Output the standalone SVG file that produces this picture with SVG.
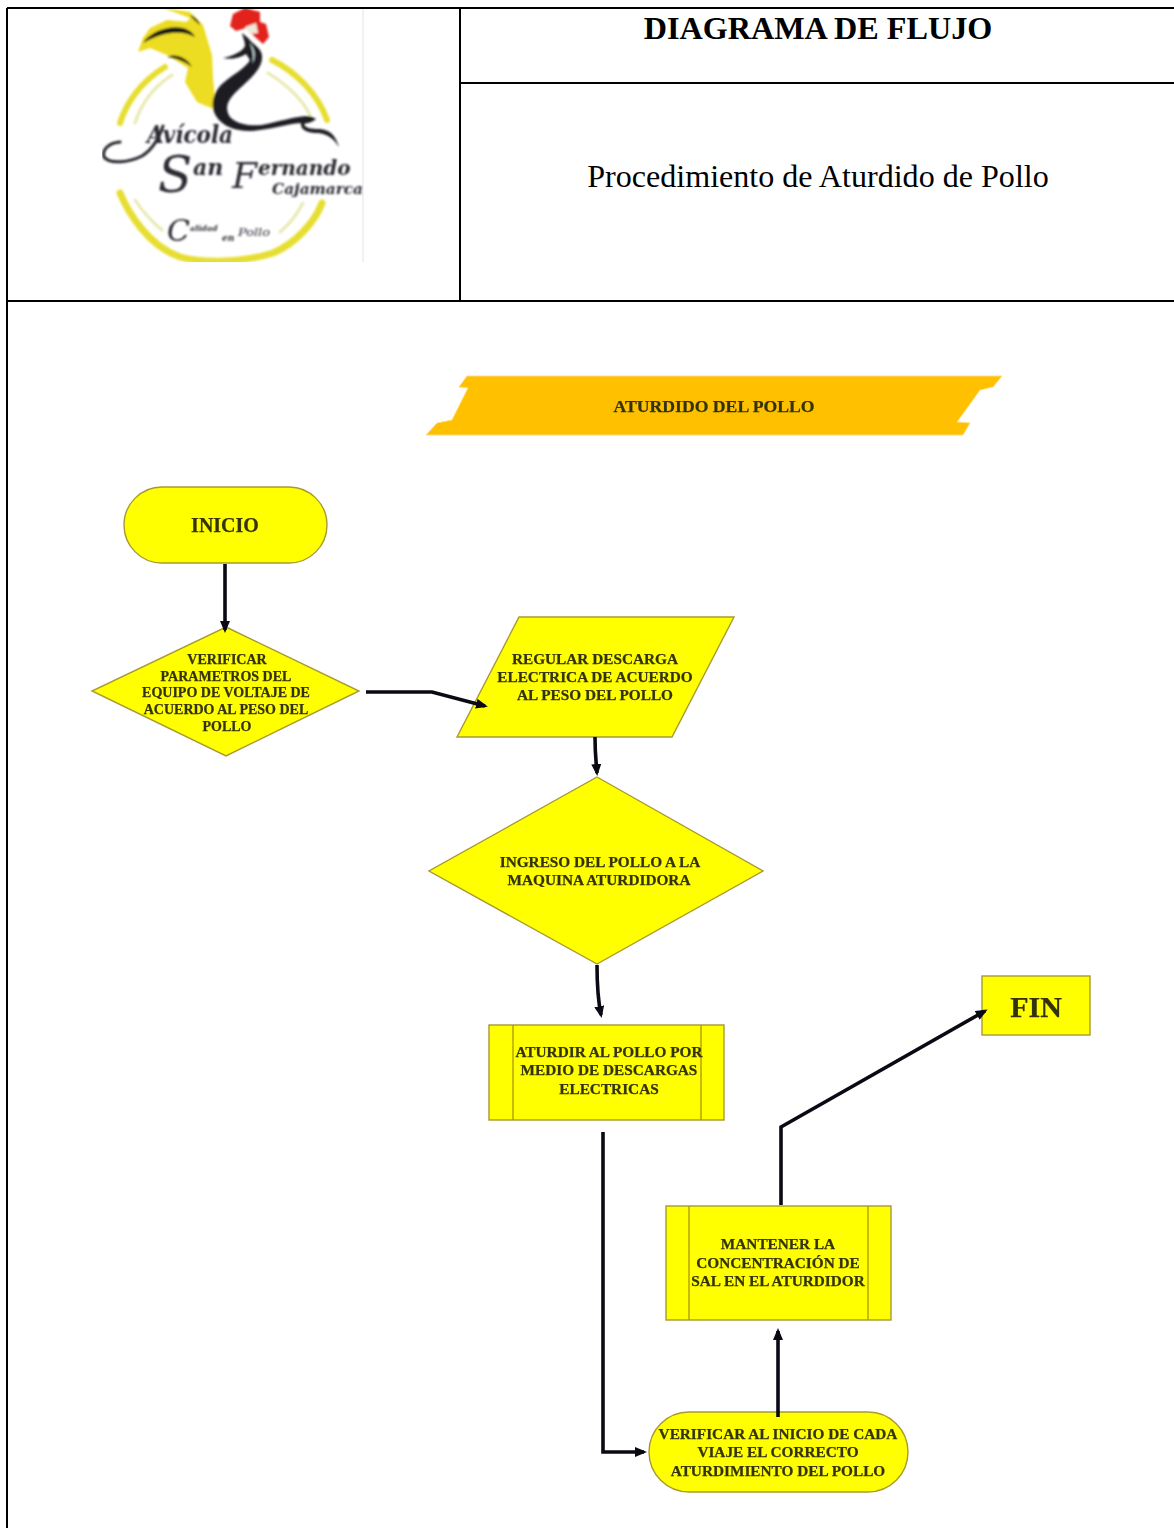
<svg xmlns="http://www.w3.org/2000/svg" width="1174" height="1528" viewBox="0 0 1174 1528">
<style>
.tb{stroke:#000;stroke-width:2;fill:none}
.n{fill:#ffff00;stroke:#a89a30;stroke-width:1.4}
.n2{fill:none;stroke:#b0a000;stroke-width:1.4}
.t{font-family:"Liberation Serif",serif;font-weight:bold;fill:#33330a;stroke:#33330a;stroke-width:.25;text-anchor:middle;font-size:14px}
.m{font-size:15.3px}
.c{fill:none;stroke:#0a0a14;stroke-width:3.6;marker-end:url(#a)}
.y{fill:none;stroke:#e6de30;stroke-linecap:round}
.p{fill:none;stroke:#e8e8b0;stroke-linecap:round;stroke-width:3}
.k{fill:none;stroke:#26262e;stroke-linecap:round}
.lg{font-family:"DejaVu Serif","Liberation Serif",serif;font-style:italic;font-weight:bold;fill:#2a2a32}
.ls{font-family:"DejaVu Serif","Liberation Serif",serif;font-style:italic;fill:#2a2a32}
</style>
<defs>
<marker id="a" markerWidth="12" markerHeight="10" refX="9" refY="5" orient="auto" markerUnits="userSpaceOnUse" viewBox="0 0 12 10"><path d="M0 0L12 5L0 10z" fill="#0a0a14"/></marker>
<filter id="b" filterUnits="userSpaceOnUse" x="0" y="0" width="1174" height="1528"><feGaussianBlur stdDeviation=".5"/></filter>
<filter id="l" filterUnits="userSpaceOnUse" x="0" y="0" width="1174" height="1528"><feGaussianBlur stdDeviation=".8"/></filter>
<clipPath id="lc"><rect x="102" y="9" width="261" height="253"/></clipPath>
</defs>
<rect width="1174" height="1528" fill="#fff"/>
<g id="table">
<path class="tb" d="M7 8H1174M7 8V1528M460 8V301M460 83H1174M7 301H1174"/>
<text x="818" y="39" font-family="Liberation Serif,serif" font-weight="bold" font-size="32.2" text-anchor="middle" fill="#000">DIAGRAMA DE FLUJO</text>
<text x="818" y="187" font-family="Liberation Serif,serif" font-size="32.1" text-anchor="middle" fill="#000">Procedimiento de Aturdido de Pollo</text>
</g>
<g id="logo">
<rect x="102" y="9" width="261" height="253" fill="#fff"/>
<path d="M363 9V262" stroke="#e4e4e8" stroke-width="1"/>
<g clip-path="url(#lc)"><g filter="url(#l)">
<path class="p" d="M135 123C141 104 152 88 172 75"/>
<path class="p" d="M268 73C280 80 300 95 310 115"/>
<path class="p" d="M135 200C143 212 152 222 162 230"/>
<path class="p" d="M303 203C297 214 290 224 280 232"/>
<path class="y" stroke-width="6" d="M120 123C126 104 140 82 165 67"/>
<path class="y" stroke-width="6" d="M272 60C296 72 318 94 327 120"/>
<path class="y" stroke-width="7" d="M120 193C128 212 148 246 180 257C205 264 245 262 273 253C295 244 315 222 322 203"/>
<path d="M163 8L190 12L203 25L212 55L213 78L216 110L197 102L185 82L188 68L167 55L150 48L138 52L143 38L150 28L167 20L187 22L190 18Z" fill="#ecdc20"/>
<path d="M143 43C150 32 168 25 183 28C190 30 193 33 195 37C188 33 180 32 172 33C162 34 152 38 143 43Z" fill="#1c1c14"/>
<path d="M167 57C175 53 187 57 192 67C186 62 176 58 167 57ZM190 15C195 17 199 21 200 25C196 22 192 18 190 15Z" fill="#1c1c14"/>
<path d="M242 33L248 38C252 44 262 48 262 56C263 70 246 82 236 92C228 100 224 108 230 117C238 125 250 126 262 125C278 122 295 116 310 116L316 119C312 123 306 123 304 124C305 128 310 129 320 129C332 130 336 138 339 147C334 139 328 134 318 133C308 133 300 130 301 123C285 124 270 130 250 131C235 131 222 126 216 116C209 104 214 92 222 84C232 75 246 68 250 60L246 54C240 58 230 60 223 58C232 56 242 52 245 46C245 41 243 38 242 33Z" fill="#1c1c24"/>
<path d="M249 42C252 48 255 56 252 64C256 58 256 50 249 42Z" fill="#d0e4e0"/>
<path d="M230 26L233 14L245 8L260 12L260 22L266 24L269 37L263 44L254 36L246 28L236 31Z" fill="#e3201c"/>
<path d="M245 27L256 23L258 33L250 34Z" fill="#f0e8d8"/>
<path class="k" stroke-width="3" d="M120 142C108 143 102 150 104 157C110 165 130 162 142 156C155 148 160 135 163 126"/>
<text class="lg" x="147" y="143" font-size="24" textLength="86" lengthAdjust="spacingAndGlyphs">Avícola</text>
<text class="ls" font-size="20"><tspan x="158" y="192" font-size="50">S</tspan><tspan x="193" y="175" font-weight="bold" font-size="22">an</tspan><tspan x="232" y="188" font-size="36"> </tspan><tspan x="232" y="188" font-size="36">F</tspan><tspan x="258" y="175" font-weight="bold">ernando</tspan></text>
<text class="lg" x="272" y="194" font-size="14" textLength="91" lengthAdjust="spacingAndGlyphs">Cajamarca</text>
<text class="ls" font-size="8"><tspan x="167" y="241" font-size="30">C</tspan><tspan x="190" y="231" font-weight="bold">alidad</tspan></text>
<text class="lg" x="222" y="241" font-size="9">en</text>
<text class="ls" x="238" y="236" font-size="11" textLength="32" lengthAdjust="spacingAndGlyphs">Pollo</text>
</g></g>
</g>
<g id="banner">
<path fill="#ffc000" stroke="#ffdc80" stroke-width="1" d="M467 376H1002L993 387L980 390L957 422L970 423L963 435H426L437 423L452 420L468 388L459 387Z"/>
<text class="t" x="714" y="412" style="font-size:17.7px" filter="url(#b)">ATURDIDO DEL POLLO</text>
</g>
<g id="inicio">
<rect class="n" x="124" y="487" width="203" height="76" rx="38"/>
<text class="t" x="225" y="532" style="font-size:20px" filter="url(#b)">INICIO</text>
</g>
<g id="verificar-parametros">
<polygon class="n" points="226,627 359,691 226,756 92,691"/>
<g filter="url(#b)">
<text class="t" x="227" y="664">VERIFICAR</text>
<text class="t" x="226" y="681">PARAMETROS DEL</text>
<text class="t" x="226" y="697">EQUIPO DE VOLTAJE DE</text>
<text class="t" x="226" y="714">ACUERDO AL PESO DEL</text>
<text class="t" x="227" y="731">POLLO</text>
</g>
</g>
<g id="regular-descarga">
<polygon class="n" points="519,617 734,617 672,737 457,737"/>
<g filter="url(#b)">
<text class="t m" x="595" y="664">REGULAR DESCARGA</text>
<text class="t m" x="595" y="682">ELECTRICA DE ACUERDO</text>
<text class="t m" x="595" y="700">AL PESO DEL POLLO</text>
</g>
</g>
<g id="ingreso">
<polygon class="n" points="597,777 763,871 597,964 429,871"/>
<g filter="url(#b)">
<text class="t m" x="600" y="867">INGRESO DEL POLLO A LA</text>
<text class="t m" x="599" y="885">MAQUINA ATURDIDORA</text>
</g>
</g>
<g id="aturdir">
<rect class="n" x="489" y="1025" width="235" height="95"/>
<path class="n2" d="M513 1025V1120M701 1025V1120"/>
<g filter="url(#b)">
<text class="t m" x="609" y="1057">ATURDIR AL POLLO POR</text>
<text class="t m" x="609" y="1075">MEDIO DE DESCARGAS</text>
<text class="t m" x="609" y="1094">ELECTRICAS</text>
</g>
</g>
<g id="mantener">
<rect class="n" x="666" y="1206" width="225" height="114"/>
<path class="n2" d="M689 1206V1320M868 1206V1320"/>
<g filter="url(#b)">
<text class="t m" x="778" y="1249">MANTENER LA</text>
<text class="t m" x="778" y="1268">CONCENTRACIÓN DE</text>
<text class="t m" x="778" y="1286">SAL EN EL ATURDIDOR</text>
</g>
</g>
<g id="verificar-viaje">
<rect class="n" x="649" y="1412" width="259" height="80" rx="40"/>
<g filter="url(#b)">
<text class="t m" x="778" y="1439">VERIFICAR AL INICIO DE CADA</text>
<text class="t m" x="778" y="1457">VIAJE EL CORRECTO</text>
<text class="t m" x="778" y="1476">ATURDIMIENTO DEL POLLO</text>
</g>
</g>
<g id="fin">
<rect class="n" x="982" y="976" width="108" height="59"/>
<text class="t" x="1036" y="1017" style="font-size:30px" filter="url(#b)">FIN</text>
</g>
<g id="connectors">
<path class="c" d="M225 564V630"/>
<path class="c" d="M366 692H432L485 706"/>
<path class="c" d="M595 737C595 755 596 760 597 773"/>
<path class="c" d="M597 965C597 990 598 1000 601 1015"/>
<path class="c" d="M603 1132V1452H644"/>
<path class="c" d="M778 1417V1331"/>
<path class="c" d="M781 1205V1127L985 1011"/>
</g>
</svg>
